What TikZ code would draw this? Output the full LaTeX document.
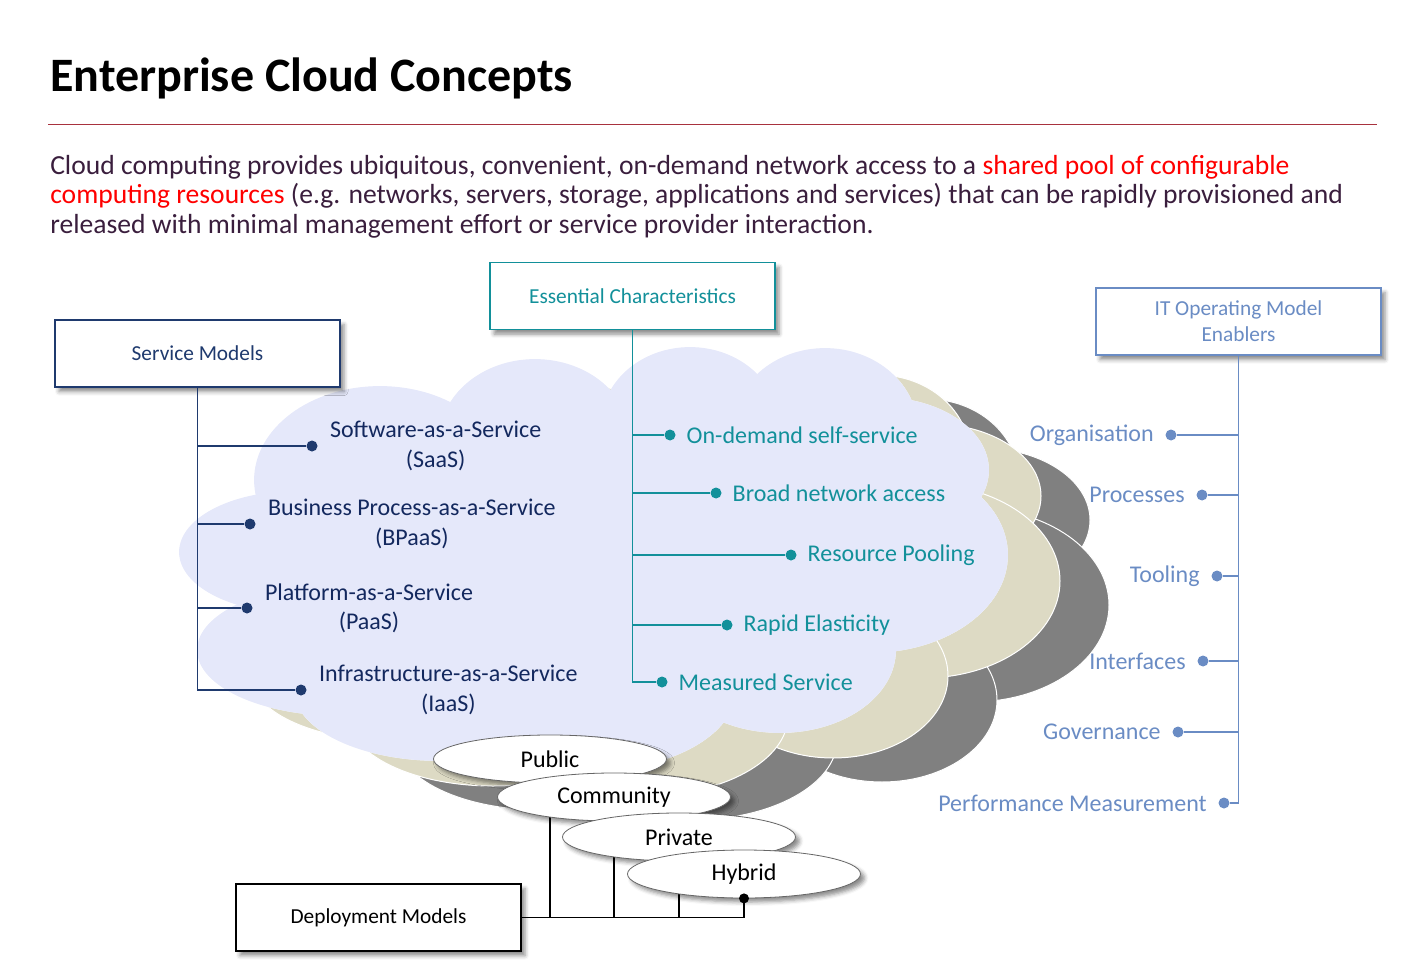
\documentclass[tikz,border=0pt]{standalone}
\usepackage{fontspec}
\setmainfont{Carlito}
\usepackage{xcolor}
\usetikzlibrary{
  positioning,
  shapes.geometric,
  shadows.blur
}

\definecolor{navy}{HTML}{1F3A6E}
\definecolor{svtext}{HTML}{13285E}
\definecolor{ecteal}{HTML}{12909A}
\definecolor{itblue}{HTML}{6A8CC4}
\definecolor{lav}{HTML}{E5E8FA}
\definecolor{cloudtan}{HTML}{DDDAC4}
\definecolor{cloudgray}{HTML}{808080}
\definecolor{bodytext}{HTML}{3A1E3D}
\definecolor{rulered}{HTML}{A8323E}

\tikzset{
  box/.style={draw, fill=white, line width=1pt, minimum width=213.75pt,
    minimum height=50.25pt, align=center, font=\fontsize{16}{19.5}\selectfont,
    blur shadow={shadow xshift=3pt, shadow yshift=-3.5pt, shadow blur radius=3pt, shadow opacity=45}},
  blob/.style={circle, fill, inner sep=0pt, minimum size=8.25pt},
  item/.style={inner sep=0pt, align=center, font=\fontsize{18}{22}\selectfont},
  depl/.style={ellipse, draw=gray!80!black, line width=0.6pt, fill=white,
    minimum width=174.75pt, minimum height=36pt, inner sep=0pt,
    font=\fontsize{18}{22}\selectfont,
    blur shadow={shadow xshift=3pt, shadow yshift=-3pt, shadow blur radius=3pt, shadow opacity=45}}
}

\begin{document}
\begin{tikzpicture}[x=0.75pt, y=-0.75pt]

    \useasboundingbox (0,0) rectangle (1424,970);

    % clouds: lobes are x/y/x radius/y radius
    % back cloud
    \foreach \cx/\cy/\rx/\ry in {590/560/260/150, 380/480/125/93, 535/440/95/80,
            690/425/88/77, 825/430/92/81, 880/470/108/72, 870/555/137/97,
            780/650/115/82, 590/690/145/80, 440/690/145/70}
        \filldraw[fill=cloudgray, draw=white, line width=0.75pt]
            (\cx+102,\cy+50) ellipse [x radius=\rx, y radius=\ry];
    % middle cloud
    \foreach \cx/\cy/\rx/\ry in {590/560/260/150, 380/480/125/93, 535/440/95/80,
            690/425/88/77, 825/430/92/81, 880/470/108/72, 870/555/137/97,
            780/650/115/82, 590/690/145/80, 440/690/145/70, 340/650/142/65,
            295/552/115/60}
        \filldraw[fill=cloudtan, draw=white, line width=0.75pt]
            (\cx+53,\cy+26) ellipse [x radius=\rx, y radius=\ry];
    % front cloud: white rim, then the fill on top
    \foreach \op in {white, lav}
        \foreach \cx/\cy/\rx/\ry in {590/560/260/150, 380/480/125/93, 535/440/95/80,
                690/425/88/77, 825/430/92/81, 880/470/108/72, 870/555/137/97,
                780/650/115/82, 590/690/145/80, 440/690/145/70, 340/650/142/65,
                295/552/115/60}
            \fill[\op] (\cx,\cy) ellipse [x radius=\rx+0.9, y radius=\ry+0.9];

    % title
    \node[anchor=base west, inner sep=0pt, font=\fontsize{36}{43}\selectfont\bfseries]
        (title) at (50,92) {Enterprise Cloud Concepts};
    \draw[rulered, line width=0.75pt] (48,125) -- (1377,125);

    \node[anchor=north west, inner sep=0pt, align=left, text=bodytext,
        font=\fontsize{20.7}{22.1}\selectfont] (intro) at (50,155)
        {Cloud computing provides ubiquitous, convenient, on-demand network access to a \textcolor{red}{shared pool of configurable}\\
         \textcolor{red}{computing resources} (e.g. networks, servers, storage, applications and services) that can be rapidly provisioned and\\
         released with minimal management effort or service provider interaction.};

    % boxes
    \node[box, draw=navy, text=navy] (smod) at (197.5,353.5) {Service Models};
    \node[box, draw=ecteal, text=ecteal] (echar) at (632.5,296) {Essential Characteristics};
    \node[box, draw=itblue, text=itblue] (itop) at (1238.5,321.5) {IT Operating Model\\Enablers};
    \node[box, draw=black, text=black] (dmod) at (378.5,917.5) {Deployment Models};

    % service models
    \node[blob, navy] (saas) at (312,446) {};
    \node[blob, navy] (bpaas) at (250,524) {};
    \node[blob, navy] (paas) at (247,608) {};
    \node[blob, navy] (iaas) at (301,690) {};
    \node[item, text=svtext, right=9pt of saas] (saasl) {Software-as-a-Service\\(SaaS)};
    \node[item, text=svtext, right=9pt of bpaas] (bpaasl) {Business Process-as-a-Service\\(BPaaS)};
    \node[item, text=svtext, right=9pt of paas] (paasl) {Platform-as-a-Service\\(PaaS)};
    \node[item, text=svtext, right=9pt of iaas] (iaasl) {Infrastructure-as-a-Service\\(IaaS)};
    \draw[navy, line width=0.9pt]
        (smod.south) |- (saas)
        (smod.south) |- (bpaas)
        (smod.south) |- (paas)
        (smod.south) |- (iaas);

    % essential characteristics
    \node[blob, ecteal] (ondem) at (670,435) {};
    \node[blob, ecteal] (broad) at (716,493) {};
    \node[blob, ecteal] (pool) at (791,555) {};
    \node[blob, ecteal] (elast) at (727,625) {};
    \node[blob, ecteal] (meas) at (662,682) {};
    \node[item, text=ecteal, right=8pt of ondem] (ondeml) {On-demand self-service};
    \node[item, text=ecteal, right=8pt of broad] (broadl) {Broad network access};
    \node[item, text=ecteal, right=8pt of pool] (pooll) {Resource Pooling};
    \node[item, text=ecteal, right=8pt of elast] (elastl) {Rapid Elasticity};
    \node[item, text=ecteal, right=8pt of meas] (measl) {Measured Service};
    \draw[ecteal, line width=0.9pt]
        (echar.south) |- (ondem)
        (echar.south) |- (broad)
        (echar.south) |- (pool)
        (echar.south) |- (elast)
        (echar.south) |- (meas);

    % operating model enablers
    \node[blob, itblue] (org) at (1171,435) {};
    \node[blob, itblue] (proc) at (1202,495) {};
    \node[blob, itblue] (tool) at (1217,576) {};
    \node[blob, itblue] (intf) at (1203,661) {};
    \node[blob, itblue] (gov) at (1178,732) {};
    \node[blob, itblue] (perf) at (1224,803) {};
    \node[item, text=itblue, left=8.5pt of org] (orgl) {Organisation};
    \node[item, text=itblue, left=8.5pt of proc] (procl) {Processes};
    \node[item, text=itblue, left=8.5pt of tool] (tooll) {Tooling};
    \node[item, text=itblue, left=8.5pt of intf] (intfl) {Interfaces};
    \node[item, text=itblue, left=8.5pt of gov] (govl) {Governance};
    \node[item, text=itblue, left=8.5pt of perf] (perfl) {Performance Measurement};
    \draw[itblue, line width=0.9pt]
        (itop.south) |- (org)
        (itop.south) |- (proc)
        (itop.south) |- (tool)
        (itop.south) |- (intf)
        (itop.south) |- (gov)
        (itop.south) |- (perf);

    % deployment models, lines go under the ellipses
    \coordinate (pubc) at (550,759);
    \coordinate (commc) at (614,797);
    \coordinate (privc) at (679,837);
    \coordinate (hybc) at (744,874);
    \draw[line width=0.9pt]
        (dmod.east) -| (hybc)
        (pubc) -- (pubc |- dmod.east)
        (commc) -- (commc |- dmod.east)
        (privc) -- (privc |- dmod.east);
    \node[depl] (pub) at (pubc) {Public};
    \node[depl] (comm) at (commc) {Community};
    \node[depl] (priv) at (privc) {Private};
    \node[depl] (hyb) at (hybc) {Hybrid};
    \node[blob, black, minimum size=7.5pt] (hybd) at (hyb.south) {};

\end{tikzpicture}
\end{document}
